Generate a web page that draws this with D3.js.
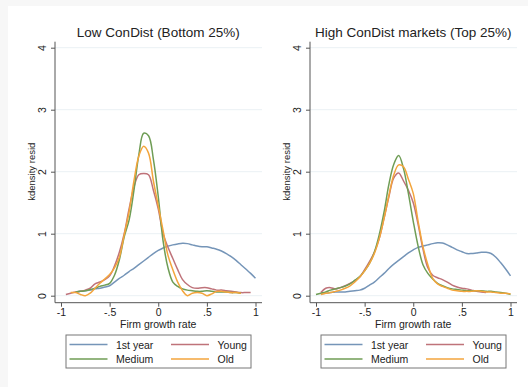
<!DOCTYPE html>
<html>
<head>
<meta charset="utf-8">
<script src="https://cdn.jsdelivr.net/npm/d3@7"></script>
<style>
  body { margin: 0; background: #f7f7f7; }
  svg { display: block; font-family: "Liberation Sans", Arial, sans-serif; }
</style>
</head>
<body>
<script>
"use strict";

// growth-rate grid the kdensity curves are read at
const growth = [-1, -0.95, -0.9, -0.85, -0.8, -0.75, -0.7, -0.65, -0.6, -0.55,
                -0.5, -0.45, -0.4, -0.35, -0.3, -0.25, -0.2, -0.15, -0.1, -0.05,
                0, 0.05, 0.1, 0.15, 0.2, 0.25, 0.3, 0.35, 0.4, 0.45,
                0.5, 0.55, 0.6, 0.65, 0.7, 0.75, 0.8, 0.85, 0.9, 0.95, 1];

const seriesNames = ["1st year", "Young", "Medium", "Old"];
const panelTitles = ["Low ConDist (Bottom 25%)", "High ConDist markets (Top 25%)"];
const xTicks = [-1, -0.5, 0, 0.5, 1];
const yTicks = [0, 1, 2, 3, 4];

// Low ConDist panel
const lowFirstYear = [null, null, null, .06, .07, .08, .09, .11, .12, .14,
                      .16, .22, .28, .33, .39, .44, .50, .56, .62, .68,
                      .73, .77, .80, .82, .835, .845, .84, .82, .80, .79,
                      .79, .77, .75, .72, .68, .63, .57, .50, .43, .36, .28];
const lowYoung = [null, .02, .04, .06, .07, .09, .12, .19, .22, .26,
                  .32, .48, .70, 1.0, 1.4, 1.75, 1.95, 1.97, 1.95, 1.7,
                  1.4, 1.0, .78, .60, .42, .26, .18, .13, .12, .13,
                  .13, .11, .09, .09, .08, .07, .06, .05, .05, .05, null];
const lowMedium = [null, null, null, .06, .07, .08, .10, .12, .15, .17,
                   .20, .33, .58, .95, 1.22, 1.70, 2.27, 2.62, 2.58, 2.2,
                   1.6, .88, .45, .22, .15, .11, .09, .08, .07, .07,
                   .08, .07, .06, .06, .06, .05, .05, .04, null, null, null];
const lowOld = [null, null, .05, .05, .02, .0, .04, .12, .20, .27,
                .34, .45, .62, .98, 1.35, 1.85, 2.25, 2.41, 2.3, 1.85,
                1.45, 1.05, .65, .42, .22, .08, .0, .04, .05, .04,
                .0, .03, .07, .07, .06, .05, .05, .04, null, null, null];

// High ConDist panel
const highFirstYear = [null, .03, .04, .05, .06, .06, .06, .07, .08, .09,
                       .12, .17, .22, .29, .36, .44, .51, .57, .63, .69,
                       .74, .78, .80, .82, .84, .855, .85, .82, .78, .74,
                       .71, .68, .68, .69, .70, .70, .68, .62, .53, .43, .32];
const highYoung = [null, .05, .12, .13, .11, .13, .16, .20, .24, .30,
                   .42, .55, .70, .92, 1.25, 1.6, 1.9, 1.98, 1.85, 1.7,
                   1.5, 1.15, .75, .45, .33, .29, .26, .22, .17, .14,
                   .12, .11, .09, .07, .06, .05, null, null, null, null, null];
const highMedium = [.02, .04, .06, .09, .11, .13, .155, .19, .25, .31,
                    .40, .52, .70, .98, 1.35, 1.80, 2.12, 2.26, 2.05, 1.65,
                    1.2, .80, .50, .36, .27, .20, .16, .13, .11, .10,
                    .09, .08, .08, .08, .08, .07, .07, .06, .05, .04, .02];
const highOld = [null, .02, .04, .05, .07, .09, .12, .16, .22, .30,
                 .40, .52, .68, .92, 1.25, 1.62, 1.95, 2.11, 2.08, 1.88,
                 1.65, 1.2, .79, .50, .28, .19, .15, .12, .09, .08,
                 .07, .07, .07, .08, .07, .06, .06, .05, .04, .04, .03];

const panels = [
    { title: panelTitles[0], values: [lowFirstYear, lowYoung, lowMedium, lowOld] },
    { title: panelTitles[1], values: [highFirstYear, highYoung, highMedium, highOld] }
];

const colors = ["#7595b8", "#bf737a", "#6f9d55", "#f3a53c"];

const width = 528, height = 387;

const svg = d3.select("body").append("svg")
              .attr("width", width)
              .attr("height", height);

svg.append("rect")
   .attr("x", 8).attr("y", 6)
   .attr("width", width - 8).attr("height", height - 6)
   .attr("fill", "#fff");

const tickFmt = d => d === 0 ? "0" : String(d).replace("0.", ".");

panels.forEach((panel, p) => {
    const off = p * 255;
    const axisX = 55 + off;
    const axisY = 302.7;
    const plotRight = 262 + off;
    const plotTop = 41.7;

    const x = d3.scaleLinear().domain([-1, 1]).range([61 + off, 255.5 + off]);
    const y = d3.scaleLinear().domain([0, 4]).range([295.7, 47.7]);

    const g = svg.append("g");

    // gridlines
    g.selectAll("line.grid")
     .data(yTicks)
     .enter().append("line")
     .attr("class", "grid")
     .attr("x1", axisX).attr("x2", plotRight)
     .attr("y1", d => y(d)).attr("y2", d => y(d))
     .attr("stroke", "#eaf1f4")
     .attr("stroke-width", 1);

    // y axis
    const yAxis = g.append("g")
                   .attr("transform", `translate(${axisX},0)`)
                   .call(d3.axisLeft(y).tickValues(yTicks).tickSize(4).tickFormat(d3.format("d")));
    yAxis.select(".domain").remove();
    yAxis.selectAll(".tick line").attr("stroke", "#555");
    yAxis.selectAll(".tick text")
         .attr("x", null).attr("dy", null)
         .attr("text-anchor", "middle")
         .attr("transform", "translate(-9,0) rotate(-90)")
         .attr("font-size", 10.5)
         .attr("fill", "#222")
         .attr("font-family", null);

    // x axis
    const xAxis = g.append("g")
                   .attr("transform", `translate(0,${axisY})`)
                   .call(d3.axisBottom(x).tickValues(xTicks).tickSize(4).tickFormat(tickFmt));
    xAxis.select(".domain").remove();
    xAxis.selectAll(".tick line").attr("stroke", "#555");
    xAxis.selectAll(".tick text")
         .attr("y", 6)
         .attr("font-size", 10.5)
         .attr("fill", "#222")
         .attr("font-family", null);

    g.append("line")
     .attr("x1", axisX).attr("x2", axisX)
     .attr("y1", plotTop).attr("y2", axisY)
     .attr("stroke", "#555");
    g.append("line")
     .attr("x1", axisX).attr("x2", plotRight)
     .attr("y1", axisY).attr("y2", axisY)
     .attr("stroke", "#555");

    // curves
    const line = d3.line()
                   .defined(d => d[1] !== null)
                   .x(d => x(d[0]))
                   .y(d => y(d[1]))
                   .curve(d3.curveCatmullRom.alpha(0.5));

    panel.values.forEach((vals, i) => {
        g.append("path")
         .datum(growth.map((gx, k) => [gx, vals[k]]))
         .attr("d", line)
         .attr("fill", "none")
         .attr("stroke", colors[i])
         .attr("stroke-width", 1.5);
    });

    // titles
    g.append("text")
     .attr("x", x(0)).attr("y", 37)
     .attr("text-anchor", "middle")
     .attr("font-size", 13.5)
     .attr("fill", "#222")
     .text(panel.title);

    g.append("text")
     .attr("x", x(0)).attr("y", 328)
     .attr("text-anchor", "middle")
     .attr("font-size", 10.5)
     .attr("fill", "#222")
     .text("Firm growth rate");

    g.append("text")
     .attr("transform", `translate(${34.5 + off},${y(2)}) rotate(-90)`)
     .attr("text-anchor", "middle")
     .attr("font-size", 9.5)
     .attr("fill", "#222")
     .text("kdensity resid");

    // legend
    const lg = g.append("g").attr("transform", `translate(${66 + off},335)`);
    lg.append("rect")
      .attr("width", 185).attr("height", 33)
      .attr("fill", "#fff")
      .attr("stroke", "#777")
      .attr("stroke-width", 1);
    seriesNames.forEach((name, i) => {
        const col = i % 2, row = Math.floor(i / 2);
        const lx = col === 0 ? 3.5 : 105;
        const ly = row === 0 ? 9.5 : 24;
        lg.append("line")
          .attr("x1", lx).attr("x2", lx + 38)
          .attr("y1", ly).attr("y2", ly)
          .attr("stroke", colors[i])
          .attr("stroke-width", 1.5);
        lg.append("text")
          .attr("x", lx + 46.5).attr("y", ly + 4)
          .attr("font-size", 10.5)
          .attr("fill", "#222")
          .text(name);
    });
});
</script>
</body>
</html>
